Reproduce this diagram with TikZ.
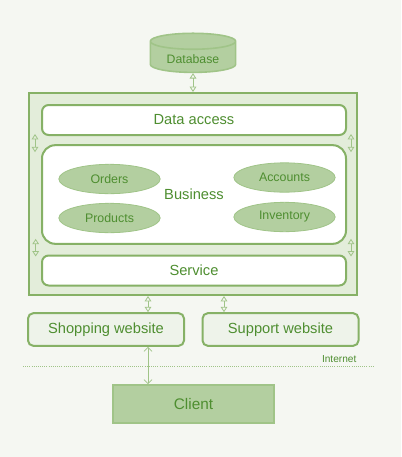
\documentclass[tikz,border=0pt]{standalone}
\usepackage{fontspec}
\setmainfont{Liberation Sans}
\usepackage{tikz}
\usetikzlibrary{shapes.geometric,arrows.meta}

\definecolor{bgcol}{HTML}{F5F7F2}
\definecolor{linecol}{HTML}{86B166}
\definecolor{txtcol}{HTML}{4E8E30}
\definecolor{outercol}{HTML}{E3EDDA}
\definecolor{ellcol}{HTML}{B3CFA0}
\definecolor{arrcol}{HTML}{A0C488}
\definecolor{webcol}{HTML}{EEF3EA}

\tikzset{
    layerbox/.style={draw=linecol, line width=1.5pt, fill=white, rounded corners=5pt,
        minimum width=228pt, minimum height=22.5pt, text=txtcol, font=\fontsize{11}{13}\selectfont},
    module/.style={ellipse, draw=arrcol, line width=0.6pt, fill=ellcol, minimum width=76pt,
        minimum height=22pt, text=txtcol, font=\fontsize{9.3}{11}\selectfont},
    sitebox/.style={draw=linecol, line width=1.5pt, fill=webcol, rounded corners=4pt,
        minimum width=117pt, minimum height=24.5pt, text=txtcol, font=\fontsize{11}{13}\selectfont},
    link/.style={draw=arrcol, line width=0.6pt, {Triangle[open,length=4pt,width=5pt]}-{Triangle[open,length=4pt,width=5pt]}},
    longlink/.style={draw=arrcol, line width=0.6pt, {Straight Barb[length=3pt,width=6pt]}-{Straight Barb[length=3pt,width=6pt]}}
}

\begin{document}
\begin{tikzpicture}[x=0.75pt, y=-0.75pt]
        \fill[bgcol] (0,0) rectangle (401,457);
        \useasboundingbox (0,0) rectangle (401,457);

        % database
        \node[cylinder, shape border rotate=90, aspect=0.26, draw=arrcol, line width=1.2pt, fill=ellcol,
            minimum width=64pt, minimum height=27.5pt, text=txtcol, font=\fontsize{9.2}{11}\selectfont]
            (db) at (193,59) {\raisebox{-2.5pt}{Database}};

        % application layers
        \node[draw=linecol, line width=1.5pt, fill=outercol, minimum width=246pt, minimum height=151.5pt]
            (app) at (193,194) {};
        \node[layerbox] (dal) at (194,120) {Data access};
        \node[layerbox, rounded corners=10pt, minimum height=74pt] (biz) at (194,194.5) {};
        \node[text=txtcol, font=\fontsize{11}{13}\selectfont] (bizlabel) at (194,194) {Business};
        \node[layerbox] (svc) at (194,270.5) {Service};

        \node[module] (orders) at (109.5,179) {Orders};
        \node[module] (products) at (109.5,218) {Products};
        \node[module] (accounts) at (284.5,177.5) {Accounts};
        \node[module] (inventory) at (284.5,217) {Inventory};

        % websites and client
        \node[sitebox] (shop) at (106,329.5) {Shopping website};
        \node[sitebox] (support) at (280.5,329.5) {Support website};
        \node[draw=arrcol, line width=1.2pt, fill=ellcol, minimum width=120.5pt, minimum height=28.5pt,
            text=txtcol, font=\fontsize{11.5}{13}\selectfont] (client) at (193.5,404) {Client};

        % internet line
        \coordinate (netL) at (23,366);
        \coordinate (netR) at (373,366);
        \draw[arrcol, densely dotted, line width=0.6pt] (netL) -- (netR);
        \node[anchor=south east, inner sep=1pt, text=txtcol, font=\fontsize{7.6}{9}\selectfont]
            (netlabel) at (358,364) {Internet};

        % connectors
        \draw[link] (db.south) -- (app.north);
        \draw[link] ([xshift=-4.5pt, yshift=1.5pt]dal.south west) -- ([xshift=-4.5pt, yshift=-6pt]biz.north west);
        \draw[link] ([xshift=3pt, yshift=1.5pt]dal.south east) -- ([xshift=3pt, yshift=-6pt]biz.north east);
        \draw[link] ([xshift=-4pt, yshift=4.5pt]biz.south west) -- ([xshift=-4pt, yshift=-1.5pt]svc.north west);
        \draw[link] ([xshift=3pt, yshift=4.5pt]biz.south east) -- ([xshift=3pt, yshift=-1.5pt]svc.north east);
        \draw[link] (app.south -| shop.north) ++(42,0) coordinate (appShop) (appShop) -- (appShop |- shop.north);
        \draw[link] (app.south -| support.north) ++(-56.5,0) coordinate (appSup) (appSup) -- (appSup |- support.north);
        \draw[longlink] (shop.south -| appShop) -- (client.north -| appShop);
    \end{tikzpicture}
\end{document}
